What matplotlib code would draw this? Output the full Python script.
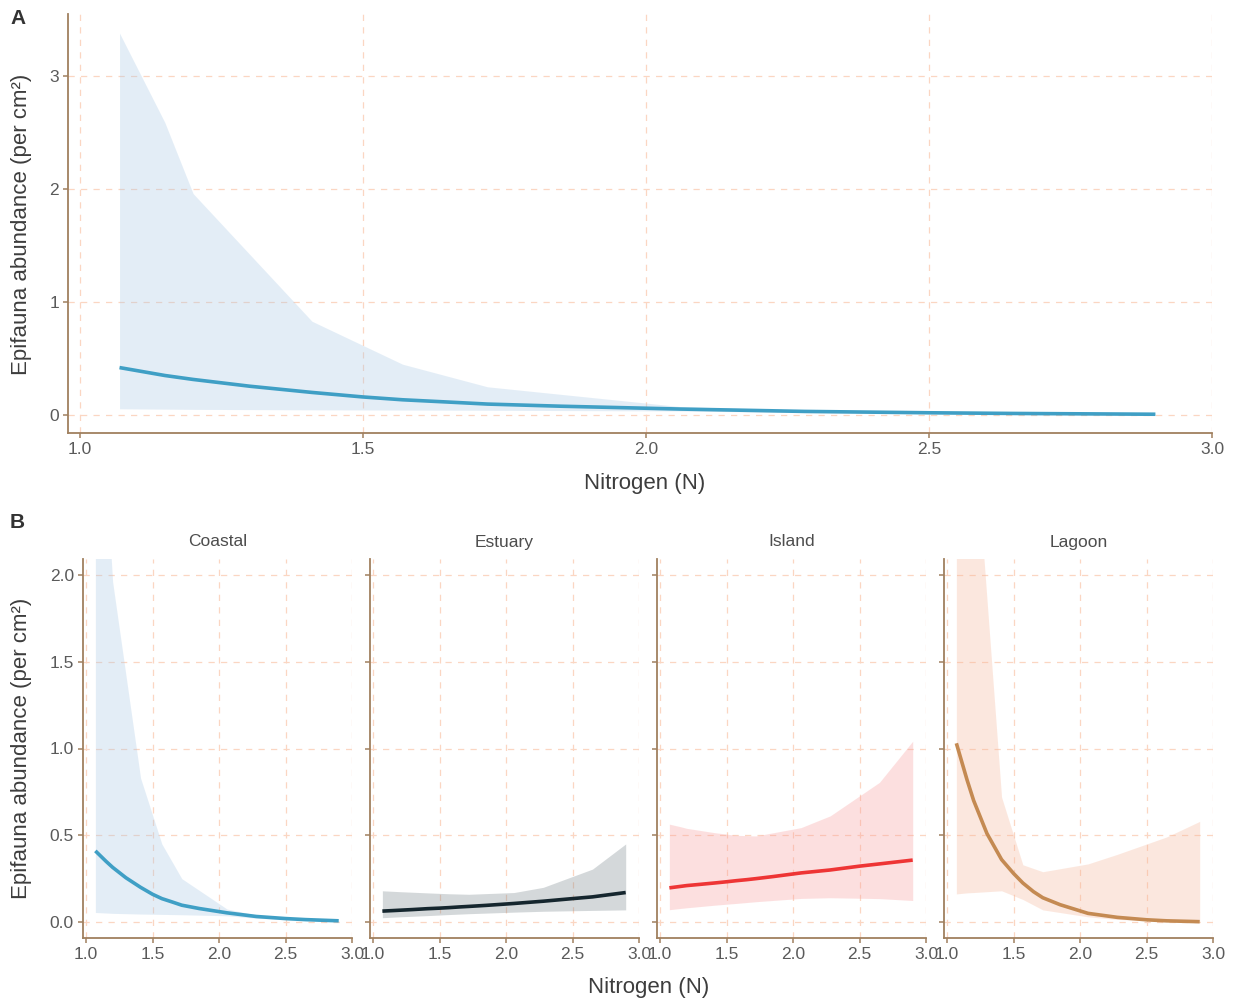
import matplotlib
matplotlib.use("Agg")
import matplotlib.pyplot as plt

plt.rcParams['font.family'] = ['Liberation Sans', 'DejaVu Sans']

# ---------------- data ----------------
# nitrogen values where the confidence ribbons are given
nitrogen = [1.07, 1.15, 1.20, 1.41, 1.57, 1.72, 2.06, 2.28, 2.65, 2.90]
# nitrogen values where the fitted curves are given
nitrogen_fit = [1.07, 1.15, 1.20, 1.30, 1.41, 1.50, 1.57, 1.65, 1.72, 1.85, 2.06, 2.28, 2.50, 2.65, 2.90]

# Panel A: overall model
overall_fit = [0.42, 0.35, 0.315, 0.255, 0.20, 0.16, 0.135, 0.115, 0.097, 0.078, 0.053, 0.032, 0.020, 0.014, 0.007]
overall_lo = [0.055, 0.052, 0.050, 0.046, 0.044, 0.042, 0.036, 0.022, 0.009, 0.003]
overall_hi = [3.38, 2.59, 1.96, 0.83, 0.45, 0.25, 0.075, 0.04, 0.017, 0.009]

# Panel B: by habitat
habitats = ["Coastal", "Estuary", "Island", "Lagoon"]

coastal_fit = [0.41, 0.35, 0.315, 0.255, 0.20, 0.16, 0.135, 0.115, 0.097, 0.078, 0.053, 0.032, 0.020, 0.014, 0.007]
coastal_lo = [0.055, 0.052, 0.050, 0.046, 0.044, 0.042, 0.036, 0.022, 0.009, 0.003]
coastal_hi = [3.38, 2.59, 1.96, 0.83, 0.45, 0.25, 0.075, 0.04, 0.017, 0.009]

estuary_fit = [0.063, 0.066, 0.068, 0.072, 0.077, 0.080, 0.083, 0.087, 0.090, 0.096, 0.107, 0.120, 0.135, 0.145, 0.170]
estuary_lo = [0.025, 0.028, 0.030, 0.037, 0.043, 0.048, 0.057, 0.062, 0.067, 0.070]
estuary_hi = [0.180, 0.177, 0.175, 0.168, 0.163, 0.160, 0.170, 0.200, 0.305, 0.450]

island_fit = [0.197, 0.205, 0.210, 0.217, 0.225, 0.232, 0.238, 0.244, 0.250, 0.262, 0.283, 0.300, 0.322, 0.335, 0.357]
island_lo = [0.071, 0.078, 0.082, 0.097, 0.107, 0.117, 0.136, 0.140, 0.135, 0.124]
island_hi = [0.564, 0.550, 0.540, 0.515, 0.500, 0.496, 0.544, 0.612, 0.805, 1.042]

lagoon_fit = [1.03, 0.82, 0.70, 0.51, 0.36, 0.28, 0.225, 0.175, 0.14, 0.10, 0.05, 0.027, 0.013, 0.007, 0.002]
lagoon_lo = [0.162, 0.168, 0.170, 0.180, 0.130, 0.070, 0.030, 0.015, 0.004, 0.001]
lagoon_hi = [5.0, 3.8, 2.9, 0.72, 0.33, 0.29, 0.335, 0.39, 0.49, 0.58]

x_ticks = [1.0, 1.5, 2.0, 2.5, 3.0]
yA_ticks = [0, 1, 2, 3]
yB_ticks = [0.0, 0.5, 1.0, 1.5, 2.0]

# ---------------- style ----------------
line_colors = {"Coastal": "#3f9fc5", "Estuary": "#15262e", "Island": "#ee3535", "Lagoon": "#c48a52"}
fill_colors = {"Coastal": "#a5c6e4", "Estuary": "#738087", "Island": "#f89898", "Lagoon": "#f5b294"}
series = {
    "Coastal": (coastal_fit, coastal_lo, coastal_hi),
    "Estuary": (estuary_fit, estuary_lo, estuary_hi),
    "Island": (island_fit, island_lo, island_hi),
    "Lagoon": (lagoon_fit, lagoon_lo, lagoon_hi),
}
SPINE = "#a0805f"
GRID = "#fbd6c2"
TICKTXT = "#5a5a5a"
LABTXT = "#3d3d3d"

W, H = 1237, 1001
fig = plt.figure(figsize=(W / 100, H / 100), dpi=100)


def style_ax(ax):
    for s in ("top", "right"):
        ax.spines[s].set_visible(False)
    for s in ("left", "bottom"):
        ax.spines[s].set_color(SPINE)
        ax.spines[s].set_linewidth(1.3)
    ax.tick_params(axis="both", colors=SPINE, labelcolor=TICKTXT, labelsize=12.5,
                   length=3.5, width=1.1, pad=3)
    ax.grid(True, color=GRID, linestyle=(0, (5, 5)), linewidth=0.9)
    ax.set_axisbelow(True)


def add_axes_px(left, top, right, bottom):
    return fig.add_axes([left / W, 1 - bottom / H, (right - left) / W, (bottom - top) / H])


# ---- Panel A ----
axA = add_axes_px(68, 14, 1212, 433)
style_ax(axA)
axA.fill_between(nitrogen, overall_lo, overall_hi, color=fill_colors["Coastal"], alpha=0.3, linewidth=0)
axA.plot(nitrogen_fit, overall_fit, color=line_colors["Coastal"], linewidth=2.6, solid_capstyle="butt")
axA.set_xlim(0.979, 3.0)
axA.set_ylim(-0.159, 3.549)
axA.set_xticks(x_ticks)
axA.set_xticklabels([f"{v:.1f}" for v in x_ticks])
axA.set_yticks(yA_ticks)
axA.set_yticklabels([str(v) for v in yA_ticks])

fig.text(645 / W, 1 - 483 / H, "Nitrogen (N)", ha="center", va="center", fontsize=16, color=LABTXT)
fig.text(22 / W, 1 - 224 / H, "Epifauna abundance (per cm²)", ha="center", va="center",
         rotation=90, fontsize=16, color=LABTXT)
fig.text(10 / W, 1 - 18 / H, "A", ha="left", va="center", fontsize=15, fontweight="bold", color="#333333")

# ---- Panel B ----
lefts = [83, 370, 657, 944]
for i, (name, left) in enumerate(zip(habitats, lefts)):
    ax = add_axes_px(left, 559, left + 269, 938)
    style_ax(ax)
    fit, lo, hi = series[name]
    ax.fill_between(nitrogen, lo, hi, color=fill_colors[name], alpha=0.3, linewidth=0)
    ax.plot(nitrogen_fit, fit, color=line_colors[name], linewidth=2.6, solid_capstyle="butt")
    ax.set_xlim(0.977, 3.0)
    ax.set_ylim(-0.092, 2.092)
    ax.set_xticks(x_ticks)
    ax.set_xticklabels([f"{v:.1f}" for v in x_ticks])
    ax.set_yticks(yB_ticks)
    if i == 0:
        ax.set_yticklabels([f"{v:.1f}" for v in yB_ticks])
    else:
        ax.set_yticklabels([])
    ax.set_title(name, fontsize=12.5, color="#4d4d4d", pad=9)

fig.text(649 / W, 1 - 988 / H, "Nitrogen (N)", ha="center", va="center", fontsize=16, color=LABTXT)
fig.text(22 / W, 1 - 748 / H, "Epifauna abundance (per cm²)", ha="center", va="center",
         rotation=90, fontsize=16, color=LABTXT)
fig.text(10 / W, 1 - 522 / H, "B", ha="left", va="center", fontsize=15, fontweight="bold", color="#333333")

fig.savefig("out.png", dpi=100, facecolor="white")
